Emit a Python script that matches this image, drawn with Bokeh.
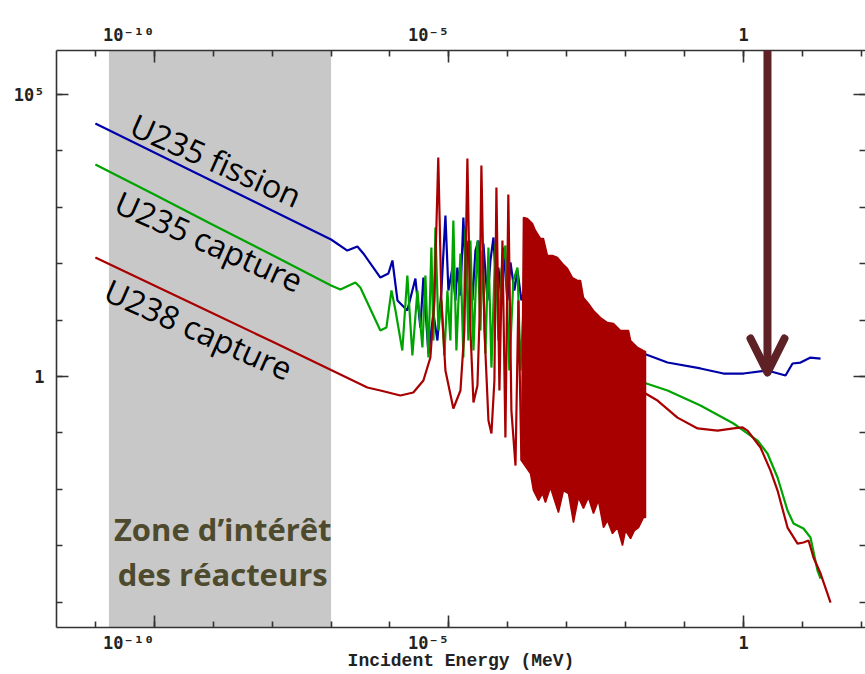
import numpy as np
from bokeh.plotting import figure
from bokeh.models import (Range1d, LogAxis, FixedTicker, CustomJSTickFormatter,
                          BoxAnnotation, Label, Arrow, OpenHead)
from bokeh.embed import file_html
from bokeh.resources import INLINE

# ---------------- data (energy in MeV, cross section in barns) ----------------
u235_fission_E = [1e-11, 1e-10, 1e-9, 1e-8, 1e-7, 1.89e-7, 2.80e-7, 3.53e-7, 6.87e-7, 9.40e-7,
                  1.10e-6, 1.34e-6, 1.97e-6, 2.70e-6, 3.28e-6, 3.69e-6, 4.49e-6, 5.46e-6, 6.38e-6,
                  7.46e-6, 8.73e-6, 9.81e-6, 1.15e-5, 1.29e-5, 1.39e-5, 1.57e-5, 1.76e-5, 1.98e-5,
                  2.14e-5, 2.51e-5, 2.82e-5, 3.17e-5, 3.56e-5, 3.85e-5, 4.51e-5, 5.07e-5, 5.70e-5,
                  6.40e-5, 6.92e-5, 7.78e-5, 8.42e-5, 9.85e-5, 1.11e-4, 1.29e-4, 1.46e-4, 1.70e-4,
                  2.15e-4, 2.62e-4, 3.18e-4, 4.70e-4, 9.51e-4, 1.85e-3, 3.73e-3, 8.16e-3, 2.00e-2,
                  5.13e-2, 0.186, 0.457, 1.0, 2.55, 5.16, 6.79, 9.29, 13.7, 20.3]
u235_fission_xs = [3.06e4, 9370, 2870, 877, 269, 171, 202, 152, 56.9, 67.0,
                   114, 22.3, 14.8, 54.7, 7.39, 56.9, 2.56, 13.1, 4.35,
                   33.5, 716, 33.5, 85.6, 22.3, 85.6, 27.3, 659, 33.5,
                   258, 22.3, 171, 258, 33.5, 228, 22.3, 114, 292,
                   33.5, 85.6, 22.3, 194, 22.3, 105, 33.5, 75.7, 22.3,
                   50.4, 22.3, 67.0, 41.0, 22.3, 22.3, 8.02, 4.35, 2.56,
                   1.77, 1.39, 1.13, 1.13, 1.28, 1.04, 1.70, 1.77, 2.17, 2.08]

u235_capture_E = [1e-11, 1e-10, 1e-9, 1e-8, 1e-7, 1.44e-7, 2.59e-7, 3.14e-7, 6.87e-7, 8.69e-7,
                  1.06e-6, 1.24e-6, 1.62e-6, 1.97e-6, 2.40e-6, 2.92e-6, 3.55e-6, 3.99e-6, 4.49e-6,
                  5.04e-6, 5.46e-6, 5.90e-6, 6.64e-6, 7.46e-6, 8.39e-6, 9.44e-6, 1.06e-5, 1.19e-5,
                  1.34e-5, 1.57e-5, 1.76e-5, 1.91e-5, 2.14e-5, 2.32e-5, 2.61e-5, 3.05e-5, 3.43e-5,
                  3.71e-5, 4.17e-5, 4.69e-5, 5.27e-5, 6.15e-5, 6.92e-5, 7.78e-5, 9.10e-5, 1.06e-4,
                  1.24e-4, 1.46e-4, 1.64e-4, 1.91e-4, 2.42e-4, 3.57e-4, 7.82e-4, 3.73e-3, 2.00e-2,
                  5.13e-2, 0.186, 0.676, 1.0, 1.73, 2.55, 3.78, 5.58, 7.06, 10.4, 13.7, 18.0, 20.3]
u235_capture_xs = [5740, 1690, 485, 143, 41.0, 34.9, 46.4, 37.8, 6.54, 7.39,
                   33.5, 14.8, 2.89, 61.8, 2.36, 33.5, 3.27, 61.8, 2.17,
                   194, 4.35, 439, 6.54, 22.3, 2.36, 33.5, 4.35, 583,
                   2.89, 152, 2.17, 421, 4.35, 258, 2.89, 258, 6.54,
                   171, 2.56, 194, 1.44, 228, 4.35, 75.7, 210, 1.28,
                   50.4, 85.6, 1.28, 33.5, 22.3, 14.8, 6.54, 2.89, 0.783,
                   0.565, 0.306, 0.147, 0.110, 0.0733, 0.0431, 0.0162, 4.21e-3, 2.48e-3,
                   2.02e-3, 1.40e-3, 3.63e-4, 2.62e-4]

# U238 capture: thermal + resolved resonances
u238_capture_E = [1e-11, 1e-10, 1e-9, 1e-8, 1e-7, 4.13e-7, 6.87e-7, 1.50e-6, 2.49e-6, 3.69e-6,
                  4.85e-6, 5.67e-6, 6.6e-6, 7.46e-6, 8.73e-6, 1.19e-5, 1.57e-5, 1.83e-5, 2.06e-5,
                  2.32e-5, 2.61e-5, 3.05e-5, 3.30e-5, 3.56e-5, 4.01e-5, 4.69e-5, 5.27e-5, 5.92e-5,
                  6.40e-5, 7.20e-5, 8.10e-5, 9.10e-5, 1.02e-4, 1.15e-4, 1.35e-4, 1.51e-4, 1.70e-4]
u238_capture_xs = [129, 41.0, 13.1, 4.17, 1.30, 0.638, 0.565, 0.461, 0.520, 0.849,
                   2.17, 22.3, 7640, 22.3, 1.28, 0.271, 0.565, 6.54, 7330,
                   6.54, 0.346, 0.692, 9.84, 5510, 6.54, 0.166, 0.0975, 0.849,
                   2240, 0.565, 258, 0.0828, 1690, 0.249, 0.0264, 22.3, 0.0324]
# U238 capture: densely packed resonances (upper / lower envelopes)
u238_dense_top_E = [1.84e-4, 2.15e-4, 2.62e-4, 2.94e-4, 3.57e-4, 4.02e-4, 4.70e-4, 5.72e-4, 6.95e-4,
                    8.45e-4, 1.03e-3, 1.25e-3, 1.52e-3, 1.71e-3, 1.92e-3, 2.33e-3, 2.84e-3, 3.73e-3,
                    4.91e-3, 6.21e-3, 8.16e-3, 1.12e-2, 1.21e-2, 1.59e-2, 2.17e-2]
u238_dense_top_xs = [659, 633, 516, 388, 280, 280, 140, 140, 129,
                     101, 82.2, 56.9, 50.4, 50.4, 25.2, 19.7, 14.8, 11.1,
                     9.06, 8.71, 6.54, 6.54, 4.35, 3.27, 2.77]
u238_dense_bot_E = [1.70e-4, 2.42e-4, 2.72e-4, 3.31e-4, 3.87e-4, 4.35e-4, 5.28e-4, 7.23e-4, 8.79e-4,
                    1.07e-3, 1.30e-3, 1.58e-3, 1.92e-3, 2.33e-3, 2.84e-3, 3.45e-3, 4.20e-3, 4.91e-3,
                    5.97e-3, 7.26e-3, 8.83e-3, 9.93e-3, 1.21e-2, 1.41e-2, 1.65e-2, 2.00e-2, 2.17e-2]
u238_dense_bot_xs = [0.0324, 0.0191, 9.52e-3, 6.33e-3, 8.43e-3, 5.83e-3, 1.08e-2, 3.88e-3, 9.52e-3,
                     8.43e-3, 2.58e-3, 7.16e-3, 4.57e-3, 7.16e-3, 3.72e-3, 6.33e-3, 2.10e-3, 2.80e-3,
                     1.64e-3, 2.10e-3, 1.01e-3, 1.86e-3, 1.34e-3, 1.86e-3, 2.10e-3, 3.16e-3, 3.16e-3]
# U238 capture: unresolved / fast region
u238_fast_E = [2.17e-2, 3.47e-2, 7.57e-2, 0.166, 0.362, 0.676, 0.962, 1.17, 1.94,
               2.87, 3.78, 5.58, 8.26, 10.4, 12.7, 15.4, 20.3, 30.0]
u238_fast_xs = [0.500, 0.375, 0.187, 0.120, 0.110, 0.120, 0.125, 0.110, 0.0551,
                0.0215, 9.52e-3, 2.10e-3, 1.09e-3, 1.14e-3, 1.24e-3, 6.18e-4, 3.21e-4, 9.84e-5]

zone_E = [1.7e-11, 1.0e-7]          # thermal "zone d'intérêt"
arrow_E = 2.55                       # arrow marker energy
arrow_xs = [2.62e6, 1.18]            # arrow start / tip (barns)

x_major_ticks = [1e-10, 1e-5, 1.0]
x_minor_ticks = [1e-11, 1e-10, 1e-9, 1e-8, 1e-7, 1e-6, 1e-5, 1e-4, 1e-3, 1e-2, 1e-1, 1.0, 10.0, 100.0]
y_major_ticks = [1.0, 1e5]
y_minor_ticks = [1e-4, 1e-3, 1e-2, 1e-1, 1.0, 10.0, 100.0, 1e3, 1e4, 1e5]

BLUE = "#0000a8"
GREEN = "#00a400"
RED = "#a80000"
AXIS = "#333333"

# ---------------- figure ----------------
p = figure(width=865, height=674, x_axis_type="log", y_axis_type="log",
           x_range=Range1d(2.19e-12, 117.5), y_range=Range1d(3.55e-5, 6.03e5),
           output_backend="svg", toolbar_location=None,
           min_border_left=56, min_border_right=0, min_border_top=50, min_border_bottom=47)
p.outline_line_color = None
p.xgrid.visible = False
p.ygrid.visible = False
p.background_fill_color = "white"
p.border_fill_color = "white"

# power-of-ten labels with unicode superscripts; x labels end at their tick
sup_code = """
const sup = {"-":"\\u207b","0":"\\u2070","1":"\\u00b9","2":"\\u00b2","3":"\\u00b3","4":"\\u2074",
             "5":"\\u2075","6":"\\u2076","7":"\\u2077","8":"\\u2078","9":"\\u2079"};
const e = Math.round(Math.log10(tick));
if (e === 0) { return "1"; }
const s = "10" + String(e).split("").map(c => sup[c]).join("");
return PAD ? s + "\\u00a0".repeat(s.length) : s;
"""


def style_axis(ax, major, minor, labels=True, line=True, pad=False):
    ax.ticker = FixedTicker(ticks=major, minor_ticks=minor)
    ax.major_tick_in = 12
    ax.major_tick_out = 0
    ax.minor_tick_in = 6
    ax.minor_tick_out = 0
    ax.axis_line_color = AXIS if line else None
    ax.axis_line_width = 1.6
    ax.major_tick_line_color = AXIS
    ax.major_tick_line_width = 1.6
    ax.minor_tick_line_color = AXIS
    ax.minor_tick_line_width = 1.6
    ax.major_label_text_font = "DejaVu Sans Mono"
    ax.major_label_text_font_style = "bold"
    ax.major_label_text_font_size = "17px"
    ax.major_label_text_color = "#222222"
    if labels:
        ax.formatter = CustomJSTickFormatter(code=sup_code.replace("PAD", "true" if pad else "false"))
    else:
        ax.formatter = CustomJSTickFormatter(code="return '';")
        ax.major_label_standoff = 0


bottom = p.xaxis[0]
style_axis(bottom, x_major_ticks, x_minor_ticks, pad=True)
bottom.major_label_standoff = 5
bottom.axis_label = "Incident Energy (MeV)"
bottom.axis_label_text_font = "Liberation Mono"
bottom.axis_label_text_font_style = "bold"
bottom.axis_label_text_font_size = "18px"
bottom.axis_label_text_color = "#222222"
bottom.axis_label_standoff = -5

top = LogAxis()
style_axis(top, x_major_ticks, x_minor_ticks, pad=True)
top.major_label_standoff = 6
p.add_layout(top, "above")

left = p.yaxis[0]
style_axis(left, y_major_ticks, y_minor_ticks)
left.major_label_standoff = 12

right = LogAxis()
style_axis(right, y_major_ticks, y_minor_ticks, labels=False, line=False)
p.add_layout(right, "right")

# shaded zone
p.add_layout(BoxAnnotation(left=zone_E[0], right=zone_E[1], fill_color="#c8c8c8", fill_alpha=1.0,
                           line_color=None, level="underlay"))

# curves
p.line(u235_fission_E, u235_fission_xs, line_color=BLUE, line_width=2.2)
p.line(u235_capture_E, u235_capture_xs, line_color=GREEN, line_width=2.2)
p.line(u238_capture_E, u238_capture_xs, line_color=RED, line_width=2.2)
patch_E = u238_dense_top_E + u238_dense_bot_E[::-1]
patch_xs = u238_dense_top_xs + u238_dense_bot_xs[::-1]
p.patch(patch_E, patch_xs, fill_color=RED, line_color=RED, line_width=1.5)
p.line(u238_fast_E, u238_fast_xs, line_color=RED, line_width=2.2)

# curve labels
for txt, lx, ly in [("U235 fission", 1.13e-9, 6900), ("U235 capture", 8.59e-10, 253),
                    ("U238 capture", 5.69e-10, 6.95)]:
    p.add_layout(Label(x=lx, y=ly, text=txt, angle=-24, angle_units="deg",
                       text_align="center", text_baseline="middle",
                       text_font="Open Sans", text_font_size="32px", text_color="black"))

for txt, ly in [("Zone d\u2019int\u00e9r\u00eat", 1.95e-3), ("des r\u00e9acteurs", 3.1e-4)]:
    p.add_layout(Label(x=1.45e-9, y=ly, text=txt, text_align="center", text_baseline="middle",
                       text_font="Open Sans", text_font_style="bold", text_font_size="31px",
                       text_color="#4e4a2e"))

# arrow
ARROW = "#5e2125"
p.add_layout(Arrow(end=OpenHead(size=34, line_width=8, line_color=ARROW, line_cap="round",
                                line_join="round"),
                   x_start=arrow_E, y_start=arrow_xs[0], x_end=arrow_E, y_end=arrow_xs[1],
                   line_color=ARROW, line_width=8))

open("out.html", "w", encoding="utf-8").write(file_html(p, INLINE))
